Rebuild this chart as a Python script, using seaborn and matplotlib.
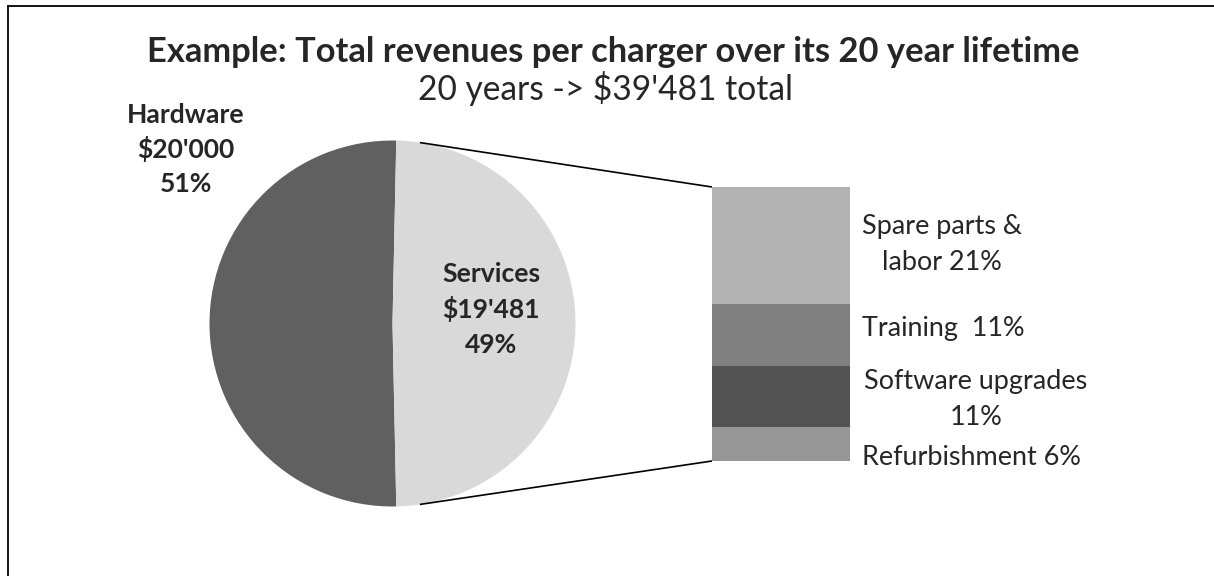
import matplotlib
matplotlib.use("Agg")
import matplotlib.pyplot as plt
import numpy as np
import seaborn as sns

# Lifetime revenue of one charger (USD)
main_labels = ["Hardware", "Services"]
main_values = [20000, 19481]
main_colors = ["#606060", "#d9d9d9"]

# Services breakdown, percent of total revenue (listed top to bottom)
service_templates = ["Spare parts &\nlabor {}%", "Training  {}%", "Software upgrades\n{}%", "Refurbishment {}%"]
service_values = [21, 11, 11, 6]
service_colors = ["#b2b2b2", "#808080", "#525252", "#969696"]

title_text = "Example: Total revenues per charger over its 20 year lifetime"
lifetime_years = 20

sns.set_theme(style="white")
plt.rcParams["font.family"] = ["Lato", "DejaVu Sans"]

W, H = 1214, 576
fig = plt.figure(figsize=(W / 100, H / 100), dpi=100)
fig.patch.set_facecolor("white")
ax = fig.add_axes([0, 0, 1, 1])
renderer = fig.canvas.get_renderer()


def Y(py):
    """Flip a top-down pixel row into the y-up data space of the main axes."""
    return H - py


def money(v):
    return "$" + f"{v:,}".replace(",", "'")


def fit_size(s, target_px, weight="normal"):
    t = ax.text(0, 0, s, fontsize=20, fontweight=weight)
    w = t.get_window_extent(renderer).width
    t.remove()
    return 20 * target_px / w


total = sum(main_values)
shares = [v / total for v in main_values]

# Pie: the services slice is centred on the right-hand side
cx, cy, r = 392.5, Y(323.5), 183
start = 180 * shares[1]
ax.pie(main_values, colors=main_colors, startangle=start, center=(cx, cy),
       radius=r, wedgeprops=dict(linewidth=0))
ax.set_xlim(0, W)
ax.set_ylim(0, H)
ax.set_aspect("auto")
ax.axis("off")

# Stacked bar for the services breakdown
bx0, by0, bx1, by1 = 712, 187, 850, 461
ax_bar = fig.add_axes([bx0 / W, (H - by1) / H, (bx1 - bx0) / W, (by1 - by0) / H])
bottom = 0
for val, col in zip(service_values[::-1], service_colors[::-1]):
    sns.barplot(x=[0], y=[val], bottom=bottom, color=col, saturation=1,
                width=1, errorbar=None, linewidth=0, ax=ax_bar)
    bottom += val
ax_bar.set_xlim(-0.5, 0.5)
ax_bar.set_ylim(0, sum(service_values))
ax_bar.axis("off")

# Connector lines from the pie to the bar corners
conn_angle = np.deg2rad(81.4)
for sgn, py in ((1, by0), (-1, by1)):
    ax.plot([cx + r * np.cos(conn_angle), bx0], [cy + sgn * r * np.sin(conn_angle), Y(py)],
            color="black", lw=1.2, solid_capstyle="butt")

# Titles
fs_title = fit_size(title_text, 934, "bold")
ax.text(613, Y(62), title_text, fontsize=fs_title, fontweight="bold",
        ha="center", va="baseline")
subtitle = f"{lifetime_years} years -> {money(total)} total"
fs_sub = fit_size(subtitle, 375)
ax.text(605.5, Y(100), subtitle, fontsize=fs_sub, ha="center", va="baseline")

# Pie labels
fs_pie = fit_size("Services", 98, "bold")
pie_label_pos = [(186, [123, 158, 192]), (491, [282, 318, 353])]
for name, val, sh, (lx, bls) in zip(main_labels, main_values, shares, pie_label_pos):
    lines = [name, money(val), f"{round(sh * 100)}%"]
    for line, bl in zip(lines, bls):
        ax.text(lx, Y(bl), line, fontsize=fs_pie, fontweight="bold",
                ha="center", va="baseline")

# Bar labels
fs_bar = fit_size("Software upgrades", 224)
bar_label_pos = [(942, [234, 270]), (943, [336]), (976, [389, 425]), (971, [465])]
for tpl, val, (lx, bls) in zip(service_templates, service_values, bar_label_pos):
    lines = tpl.format(val).split("\n")
    for line, bl in zip(lines, bls):
        ax.text(lx, Y(bl), line, fontsize=fs_bar, ha="center", va="baseline")

# Frame lines along the top and left edges
ax.plot([7.5, W], [Y(5.5), Y(5.5)], color="black", lw=1.3, solid_capstyle="projecting")
ax.plot([7.5, 7.5], [Y(5.5), 0], color="black", lw=1.3, solid_capstyle="projecting")

fig.savefig("out.png", dpi=100, facecolor="white")
